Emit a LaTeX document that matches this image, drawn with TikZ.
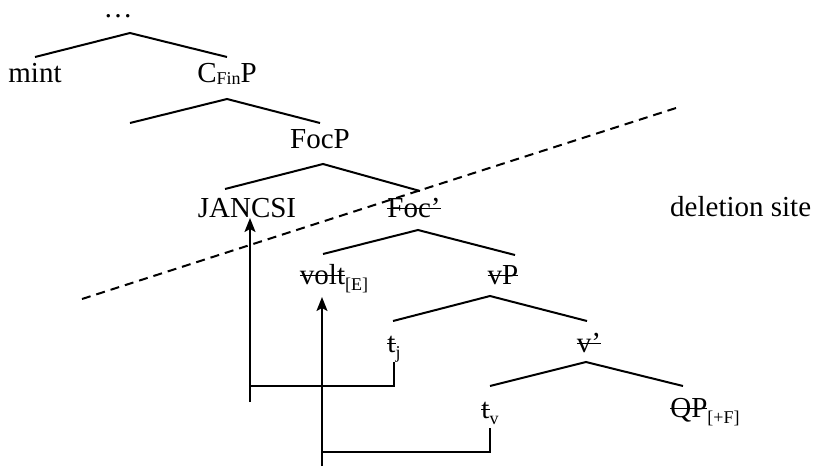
\documentclass[tikz,border=0pt]{standalone}
\usepackage{fontspec}
\setmainfont{Liberation Serif}
\usetikzlibrary{arrows.meta}
\newcommand\strk[1]{\setbox0\hbox{#1}\rlap{\rule[0.26em]{\wd0}{1.6pt}}\box0}
\newcommand\sbs[2][0.22em]{\raisebox{-#1}{\fontsize{18}{20}\selectfont #2}}
\begin{document}
\begin{tikzpicture}[x=1pt,y=-1pt,
  lbl/.style={anchor=base,inner sep=0pt,font=\fontsize{29}{32}\selectfont},
  branch/.style={line width=2pt,line join=miter},
  trace/.style={line width=2pt},
  mover/.style={line width=2pt,-{Stealth[length=14pt,width=11pt,inset=3pt]}},
  cut/.style={line width=2pt,dash pattern=on 9pt off 6pt}]
\useasboundingbox (0,0) rectangle (814,467);
% labels
\node[lbl] (top) at (118,17) {…};
\node[lbl] (mint) at (35,82) {mint};
\node[lbl] (cfinp) at (227,82) {C\sbs[0.1em]{Fin}P};
\node[lbl] (focp) at (320,148) {FocP};
\node[lbl] (jancsi) at (247,217) {JANCSI};
\node[lbl] (focbar) at (414,217) {\strk{Foc’}};
\node[lbl,anchor=base west] (del) at (670,216) {deletion site};
\node[lbl] (volt) at (334,284) {\strk{volt}\sbs{[E]}};
\node[lbl] (vp) at (503,284) {\strk{vP}};
\node[lbl] (tj) at (394,352) {\strk{t}\sbs{j}};
\node[lbl] (vbar) at (589,352) {\strk{v’}};
\node[lbl] (tv) at (490,418) {\strk{t}\sbs{v}};
\node[lbl] (qp) at (705,417) {\strk{QP}\sbs{[+F]}};
% branch points
\coordinate (a1l) at (35,57);  \coordinate (a1) at (130,33);  \coordinate (a1r) at (227,57);
\coordinate (a2l) at (130,123); \coordinate (a2) at (227,99); \coordinate (a2r) at (320,123);
\coordinate (a3l) at (225,189); \coordinate (a3) at (323,164); \coordinate (a3r) at (420,191);
\coordinate (a4l) at (323,254); \coordinate (a4) at (418,230); \coordinate (a4r) at (515,255);
\coordinate (a5l) at (393,321); \coordinate (a5) at (490,296); \coordinate (a5r) at (587,321);
\coordinate (a6l) at (490,386); \coordinate (a6) at (586,362); \coordinate (a6r) at (683,386);
\draw[branch] (a1l) -- (a1) -- (a1r);
\draw[branch] (a2l) -- (a2) -- (a2r);
\draw[branch] (a3l) -- (a3) -- (a3r);
\draw[branch] (a4l) -- (a4) -- (a4r);
\draw[branch] (a5l) -- (a5) -- (a5r);
\draw[branch] (a6l) -- (a6) -- (a6r);
% deletion line
\coordinate (cutl) at (82,299); \coordinate (cutr) at (676,108);
\draw[cut] (cutl) -- (cutr);
% movement of JANCSI
\coordinate (tjfoot) at (394,362); \coordinate (jbot) at (250,402);
\coordinate (jtip) at (250,218); \coordinate (jbend) at (250,386);
\draw[trace] (tjfoot) |- (jbend);
\draw[mover] (jbot) -- (jtip);
% movement of volt
\coordinate (tvfoot) at (490,428); \coordinate (vbot) at (322,466);
\coordinate (vtip) at (322,297); \coordinate (vbend) at (322,452);
\draw[trace] (tvfoot) |- (vbend);
\draw[mover] (vbot) -- (vtip);
\end{tikzpicture}
\end{document}
